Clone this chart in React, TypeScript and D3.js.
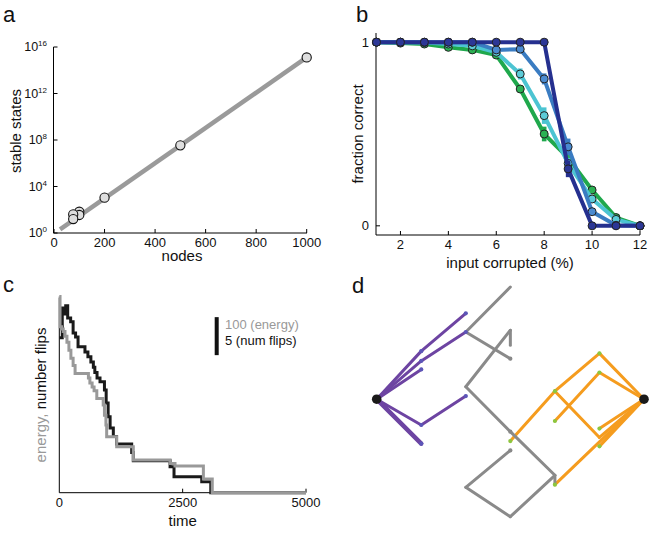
import React from 'react';
import * as d3 from 'd3';

const FONT = "'Liberation Sans', Arial, Helvetica, sans-serif";
const LETTER_FONT = "'Liberation Sans', Arial, sans-serif";

// ---------- panel a ----------
const aXTicks = [0, 200, 400, 600, 800, 1000];
const aYTickExps = [0, 4, 8, 12, 16];
const aNodes = [1000, 500, 200, 100, 100, 76, 76];
const aLogStates = [15.1, 7.54, 3.04, 1.83, 1.55, 1.6, 1.2];
const aFitNodes = [24, 1000];
const aFitLogStates = [0.32, 15.1];

// ---------- panel b ----------
const bCorrupted = [1, 2, 3, 4, 5, 6, 7, 8, 9, 10, 11, 12];
const bXTicks = [2, 4, 6, 8, 10, 12];
const bYTicks = [0, 1];
const bGreen = [1, 0.995, 0.99, 0.972, 0.958, 0.93, 0.745, 0.5, 0.37, 0.195, 0.045, 0.0];
const bGreenErr = [0, 0, 0, 0, 0, 0, 0.02, 0.04, 0.02, 0.015, 0.01, 0];
const bCyan = [1, 1, 0.998, 0.99, 0.98, 0.945, 0.827, 0.6, 0.34, 0.146, 0.035, 0.0];
const bCyanErr = [0, 0, 0, 0, 0, 0.01, 0.03, 0.045, 0.03, 0.015, 0.01, 0];
const bBlue = [1, 1, 1, 1, 1, 0.958, 0.962, 0.8, 0.43, 0.077, 0.003, 0.0];
const bBlueErr = [0, 0, 0, 0, 0, 0.01, 0.01, 0.03, 0.045, 0.015, 0, 0];
const bNavy = [1, 1, 1, 1, 1, 1, 1, 1, 0.31, 0.0, 0.0, 0.0];
const bNavyErr = [0, 0, 0, 0, 0, 0, 0, 0, 0.045, 0, 0, 0];
const bLineColors = ['#1fa84c', '#4cc4d2', '#3a7cc2', '#25308f'];
const bDotColors = ['#2bb153', '#5ccbd8', '#4a8ad0', '#2c3796'];

// ---------- panel c ----------
const cXTicks = [0, 2500, 5000];
const cFlipTime = [0, 60, 100, 130, 170, 230, 280, 330, 380, 520, 580, 640, 690, 720, 765, 825, 915, 950, 990, 1030, 1095, 1160, 1467, 1500, 2245, 2325, 2887, 3070, 5000];
const cFlips = [20.4, 24.3, 23.5, 24.6, 23.0, 22.5, 21.0, 20.5, 19.2, 18.5, 17.9, 17.2, 16.5, 15.8, 15.1, 14.6, 13.5, 11.8, 10.0, 8.5, 7.4, 6.4, 5.3, 4.2, 3.4, 2.1, 1.45, 0, 0];
const cEnergyTime = [0, 15, 45, 80, 115, 155, 195, 235, 280, 320, 590, 620, 665, 705, 760, 890, 915, 945, 960, 1163, 1500, 2245, 2345, 2920, 3100, 5000];
const cEnergy = [516, 437, 431, 424, 412, 396, 375, 354, 335, 314, 302, 289, 278, 268, 248, 231, 204, 178, 147, 121, 86, 77, 70, 36, 0, 0];
const cScaleBarTime = 3190;
const cScaleBarFlipsBase = 18.1;
const cScaleBarFlips = 5;
const cScaleLabels = ['100 (energy)', '5 (num flips)'];

// ---------- panel d ----------
const dNodeIds = ['L', 'p1', 'p2', 'p3', 'p4', 'p5', 'p6', 'p7', 'p8',
  'g1', 'g3', 'g4', 'g5', 'g6', 'g7', 'g8', 'g9', 'g10', 'g11', 'g12',
  'R', 'o1', 'o2', 'o3', 'o4', 'o5', 'o6', 'o7', 'o8', 'o9'];
const dNodeCol = [0, 1, 1, 1, 2, 2, 1, 2, 1,
  3, 3, 3, 3, 2, 3, 4, 4, 3, 2, 3,
  6, 5, 5, 4, 4, 5, 5, 3, 4, 5];
const dNodeRow = [0, -1.08, -0.86, -0.67, -1.93, -1.51, 0.58, -0.07, 1.0,
  -2.52, -0.91, -1.55, -1.21, -0.28, 0.73, 1.71, 1.9, 1.15, 1.98, 2.64,
  0, -1.03, -0.6, -0.18, 0.49, 0.66, 1.06, 0.94, 1.92, 0.86];
const dNodeDot = ['hub', 'purple', 'purple', 'purple', 'purple', 'purple', 'purple', 'purple', 'purple',
  'none', 'gray', 'none', 'none', 'none', 'gray', 'none', 'none', 'gray', 'none', 'none',
  'hub', 'green', 'green', 'green', 'green', 'green', 'green', 'green', 'green', 'none'];
const dOrangeEdges = [['R', 'o1'], ['o1', 'o3'], ['o3', 'o7'], ['R', 'o2'], ['o2', 'o4'], ['o3', 'o9'], ['R', 'o9'], ['R', 'o5'], ['R', 'o6'], ['R', 'o8']];
const dGrayEdges = [['g1', 'p5'], ['p5', 'g3'], ['g4', 'g5'], ['g4', 'g6'], ['g6', 'g7'], ['g7', 'g8'], ['g8', 'g9'], ['g10', 'g11'], ['g11', 'g12'], ['g12', 'g8']];
const dPurpleEdges = [['L', 'p1'], ['p1', 'p4'], ['L', 'p2'], ['p2', 'p5'], ['L', 'p3'], ['L', 'p6'], ['p6', 'p7'], ['L', 'p8']];
const dThickEdges = [['L', 'p8']];

const letters = ['a', 'b', 'c', 'd'];

function PanelA() {
  const x = d3.scaleLinear().domain([0, 1000]).range([54, 306.7]);
  const y = d3.scaleLinear().domain([0, 16]).range([233, 47]);
  const line = d3.line<number>().x((_, i) => x(aFitNodes[i])).y((d) => y(d));
  return (
    <g>
      <path d={line(aFitLogStates) || ''} stroke="#9a9a9a" strokeWidth={4.5} fill="none" />
      <line x1={53.5} x2={53.5} y1={47} y2={233} stroke="#000" strokeWidth={1} />
      <line x1={53.5} x2={307} y1={233} y2={233} stroke="#000" strokeWidth={1} />
      {aXTicks.map((t) => (
        <g key={t}>
          <line x1={x(t)} x2={x(t)} y1={233} y2={229} stroke="#000" />
          <text x={x(t)} y={247} textAnchor="middle" fontSize={13} fontFamily={FONT} fill="#111">{t}</text>
        </g>
      ))}
      {aYTickExps.map((e) => (
        <g key={e}>
          <line x1={53.5} x2={57.5} y1={y(e)} y2={y(e)} stroke="#000" />
          <text x={47} y={y(e) + 4} textAnchor="end" fontSize={12.5} fontFamily={FONT} fill="#111">
            10<tspan dy={-5} fontSize={8}>{e}</tspan>
          </text>
        </g>
      ))}
      {aNodes.map((n, i) => (
        <circle key={i} cx={x(n)} cy={y(aLogStates[i])} r={4.6} fill="#dedede" stroke="#111" strokeWidth={1.1} />
      ))}
      <text transform="translate(21,131) rotate(-90)" textAnchor="middle" fontSize={15} fontFamily={FONT} fill="#111">stable states</text>
      <text x={182} y={261} textAnchor="middle" fontSize={15} fontFamily={FONT} fill="#111">nodes</text>
    </g>
  );
}

function PanelB() {
  const x = d3.scaleLinear().domain([1, 12]).range([376.5, 640]);
  const y = d3.scaleLinear().domain([-0.05, 1.05]).range([235, 33]);
  const series = [
    { v: bGreen, e: bGreenErr },
    { v: bCyan, e: bCyanErr },
    { v: bBlue, e: bBlueErr },
    { v: bNavy, e: bNavyErr },
  ];
  const line = d3.line<number>().x((_, i) => x(bCorrupted[i])).y((d) => y(d));
  return (
    <g>
      <line x1={376} x2={376} y1={33} y2={235} stroke="#000" />
      <line x1={376} x2={640} y1={235} y2={235} stroke="#000" />
      {bXTicks.map((t) => (
        <g key={t}>
          <line x1={x(t)} x2={x(t)} y1={235} y2={231} stroke="#000" />
          <text x={x(t)} y={248.5} textAnchor="middle" fontSize={13} fontFamily={FONT} fill="#111">{t}</text>
        </g>
      ))}
      {bYTicks.map((t) => (
        <g key={t}>
          <line x1={376} x2={380} y1={y(t)} y2={y(t)} stroke="#000" />
          <text x={369} y={y(t) + 4.5} textAnchor="end" fontSize={13} fontFamily={FONT} fill="#111">{t}</text>
        </g>
      ))}
      {series.map((s, k) => (
        <g key={k}>
          <path d={line(s.v) || ''} stroke={bLineColors[k]} strokeWidth={4} fill="none" strokeLinejoin="round" />
          {s.v.map((v, i) => s.e[i] > 0 ? (
            <rect key={'e' + i} x={x(bCorrupted[i]) - 2.3} width={4.6} y={y(v + s.e[i])} height={y(v - s.e[i]) - y(v + s.e[i])} fill={bLineColors[k]} />
          ) : null)}
          {s.v.map((v, i) => (
            <circle key={i} cx={x(bCorrupted[i])} cy={y(v)} r={4} fill={bDotColors[k]} stroke="#222" strokeWidth={1} />
          ))}
        </g>
      ))}
      <text transform="translate(363,134) rotate(-90)" textAnchor="middle" fontSize={15} fontFamily={FONT} fill="#111">fraction correct</text>
      <text x={510} y={268} textAnchor="middle" fontSize={15} fontFamily={FONT} fill="#111">input corrupted (%)</text>
    </g>
  );
}

function PanelC() {
  const x = d3.scaleLinear().domain([0, 5000]).range([59.3, 306]);
  const yF = d3.scaleLinear().domain([0, 25]).range([492.7, 302.7]);
  const yE = d3.scaleLinear().domain([0, 500]).range([492.7, 302.7]);
  const flipLine = d3.line<number>().x((_, i) => x(cFlipTime[i])).y((d) => yF(d)).curve(d3.curveStepAfter);
  const energyLine = d3.line<number>().x((_, i) => x(cEnergyTime[i])).y((d) => yE(d)).curve(d3.curveStepAfter);
  return (
    <g>
      <line x1={59.3} x2={59.3} y1={298} y2={492.7} stroke="#000" />
      <line x1={59.3} x2={306} y1={492.7} y2={492.7} stroke="#000" />
      {cXTicks.map((t) => (
        <g key={t}>
          {t > 0 ? <line x1={x(t)} x2={x(t)} y1={492.7} y2={488.7} stroke="#000" /> : null}
          <text x={x(t)} y={506.5} textAnchor="middle" fontSize={13} fontFamily={FONT} fill="#111">{t}</text>
        </g>
      ))}
      <path d={flipLine(cFlips) || ''} stroke="#1a1a1a" strokeWidth={3} fill="none" />
      <path d={energyLine(cEnergy) || ''} stroke="#999" strokeWidth={3} fill="none" />
      <rect x={x(cScaleBarTime) - 2} width={4} y={yF(cScaleBarFlipsBase + cScaleBarFlips)} height={yF(cScaleBarFlipsBase) - yF(cScaleBarFlipsBase + cScaleBarFlips)} fill="#111" />
      <text x={225} y={329} fontSize={13} fontFamily={FONT} fill="#999">{cScaleLabels[0]}</text>
      <text x={225} y={345} fontSize={13} fontFamily={FONT} fill="#111">{cScaleLabels[1]}</text>
      <text transform="translate(46,395) rotate(-90)" textAnchor="middle" fontSize={15} fontFamily={FONT}>
        <tspan fill="#999">energy, </tspan><tspan fill="#111">number flips</tspan>
      </text>
      <text x={182.7} y={526} textAnchor="middle" fontSize={15} fontFamily={FONT} fill="#111">time</text>
    </g>
  );
}

function PanelD() {
  const x = d3.scaleLinear().domain([0, 6]).range([376.7, 644]);
  const y = d3.scaleLinear().domain([0, 1]).range([399.2, 443.7]);
  const pos: Record<string, [number, number]> = {};
  dNodeIds.forEach((id, i) => { pos[id] = [x(dNodeCol[i]), y(dNodeRow[i])]; });
  const isThick = (e: string[]) => dThickEdges.some((t) => t[0] === e[0] && t[1] === e[1]);
  const edge = (e: string[], color: string, w: number, k: string) => (
    <line key={k} x1={pos[e[0]][0]} y1={pos[e[0]][1]} x2={pos[e[1]][0]} y2={pos[e[1]][1]} stroke={color} strokeWidth={w} strokeLinecap="round" />
  );
  const dotColor: Record<string, string> = { purple: '#5c56b8', green: '#8cc63f', gray: '#888888' };
  return (
    <g>
      {dOrangeEdges.map((e, i) => edge(e, '#f59c1e', 3, 'o' + i))}
      {dGrayEdges.map((e, i) => edge(e, '#8a8a8a', 3, 'g' + i))}
      {dPurpleEdges.map((e, i) => edge(e, '#6d44a2', isThick(e) ? 4.5 : 3, 'p' + i))}
      {dNodeIds.map((id, i) => {
        const t = dNodeDot[i];
        if (t === 'none') return null;
        if (t === 'hub') return <circle key={id} cx={pos[id][0]} cy={pos[id][1]} r={4.8} fill="#1a1a1a" />;
        return <circle key={id} cx={pos[id][0]} cy={pos[id][1]} r={2.1} fill={dotColor[t]} />;
      })}
    </g>
  );
}

export default function App() {
  const letterPos: [number, number][] = [[3, 22], [356, 22], [3, 292], [352, 293]];
  return (
    <svg width={654} height={535} viewBox="0 0 654 535" style={{ position: 'absolute', left: 0, top: 0, background: '#fff' }}>
      <rect width={654} height={535} fill="#fff" />
      <PanelA />
      <PanelB />
      <PanelC />
      <PanelD />
      {letters.map((l, i) => (
        <text key={l} x={letterPos[i][0]} y={letterPos[i][1]} fontSize={22} fontFamily={LETTER_FONT} fill="#111">{l}</text>
      ))}
    </svg>
  );
}
